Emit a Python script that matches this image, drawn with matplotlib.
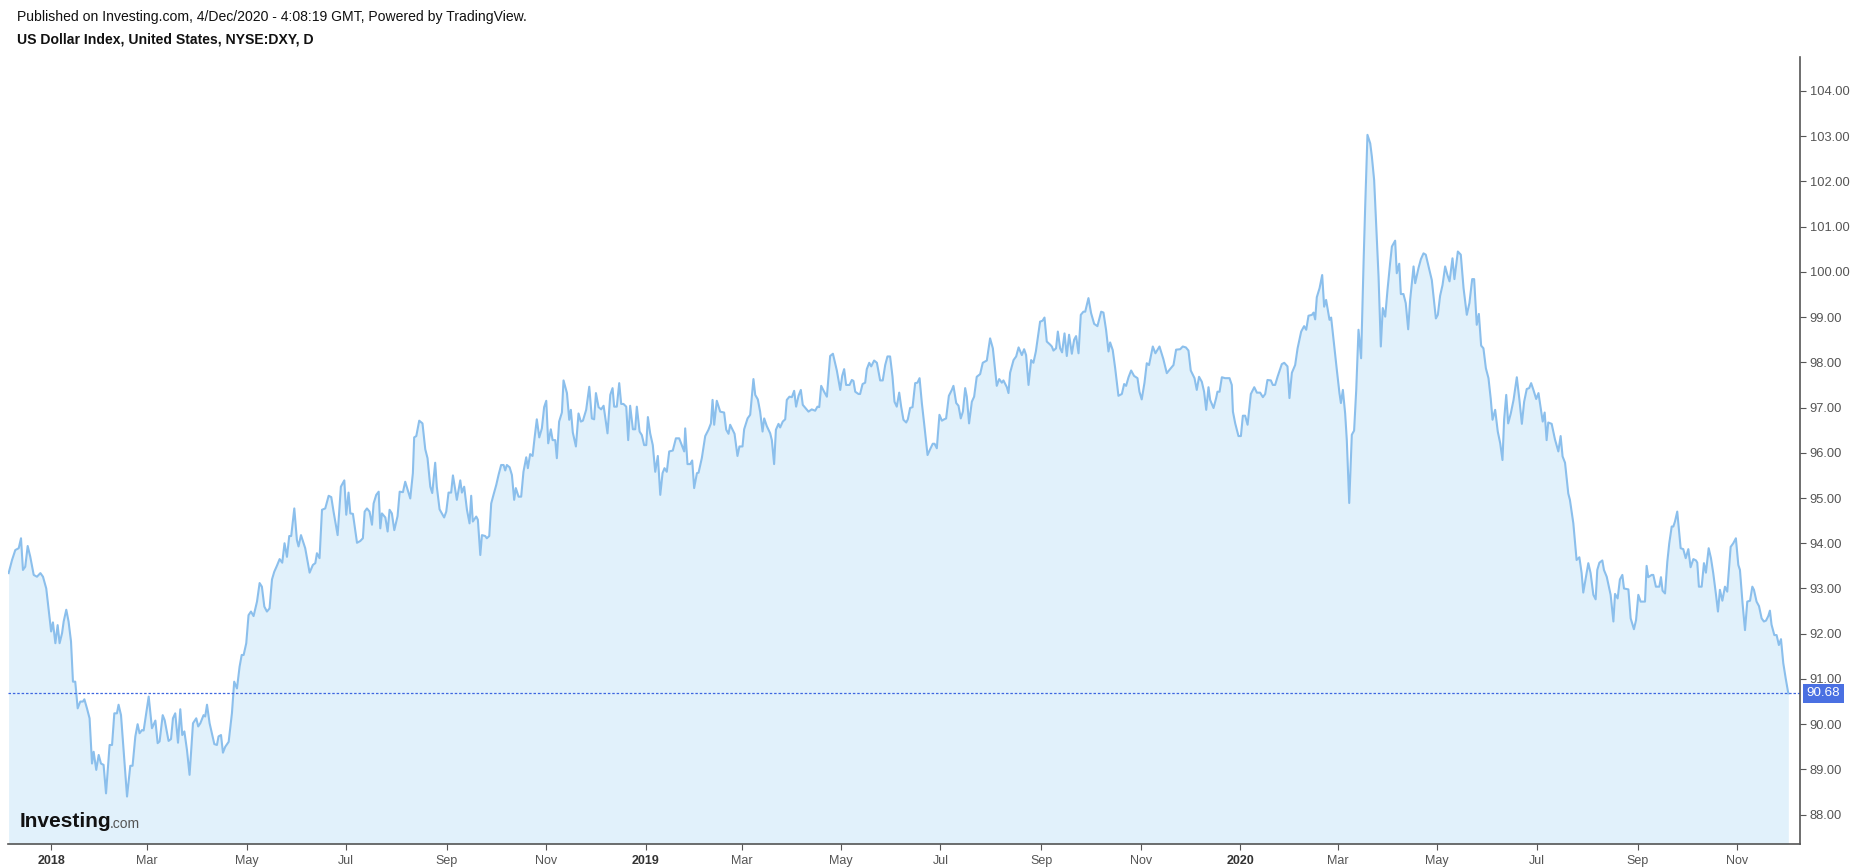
import matplotlib
matplotlib.use('Agg')
import matplotlib.pyplot as plt
import numpy as np
import pandas as pd

plt.rcParams['font.family'] = ['Liberation Sans', 'DejaVu Sans']

# days since 2018-01-01 and daily close of DXY
day_offsets = [
    -26.1, -24, -22, -19.9, -18.5, -17.3, -15.9, -14.4, -12.8, -10.7, -8.7, -6.6, -5, -3, -1.5,
    0, 1.1, 2.6, 4, 5.2, 6.7, 7.7, 9.3, 10.7, 12.2, 13.4, 14.8, 16.3, 17.9, 19.5, 20.4, 22, 23.6,
    25.1, 26.1, 27.7, 29.2, 30.6, 32.2, 33.7, 35.9, 37.4, 38.8, 40.4, 41.4, 42.9, 46.6, 48.6, 50,
    51.7, 53.1, 54.3, 55.8, 56.8, 59.9, 61.9, 64, 65.4, 66.6, 68.5, 69.7, 72.1, 73.6, 74.8, 76.2,
    77.9, 79.3, 80.5, 81.8, 83.4, 85, 87.1, 89.1, 90.3, 91.6, 93.6, 94.6, 95.7, 97.3, 98.7, 100.2,
    101.8, 102.8, 104.3, 105.5, 106.9, 109, 111, 112.4, 114.1, 115.7, 117, 118.2, 119.8, 121.2,
    122.7, 124.3, 126.4, 128, 129.4, 130.9, 132.5, 134.1, 135.6, 137, 138.6, 140.3, 141.9, 143.3,
    144.8, 146.2, 147.4, 149.3, 150.9, 151.9, 153.4, 156, 158.7, 160.7, 162.2, 163.2, 164.8, 166.3,
    168.3, 170.4, 172, 173.4, 175.9, 177.9, 180, 181.2, 182.6, 183.7, 185.3, 187.8, 189.8, 191.4,
    192.5, 193.9, 195.5, 197, 198, 199.6, 201.1, 202.1, 203.1, 205.2, 206.6, 207.8, 209.2, 210.7,
    212.7, 214, 216, 217.4, 220.5, 222.1, 222.9, 224.2, 226, 228, 229.7, 231.1, 232.8, 234, 235.8,
    236.8, 238.5, 241.3, 242.6, 244, 245.6, 246.7, 249.1, 251.2, 252.2, 253.6, 255.3, 256.9, 257.9,
    258.9, 261, 262, 263.5, 264.5, 266.5, 267.5, 269, 270.2, 271.6, 273.3, 274.7, 276.3, 277.8,
    278.8, 279.8, 281.5, 282.9, 284.3, 285.3, 287, 288.6, 290, 291.7, 292.7, 294.1, 295.6, 296.8,
    298.2, 299.7, 301.3, 302.7, 304, 305.2, 306.8, 307.9, 309.5, 310.5, 311.9, 313.6, 314.6, 316.7,
    318.1, 319.1, 320.3, 322.2, 323.8, 325.2, 326.5, 328.5, 330.4, 332, 333.4, 334.5, 336.1, 337.7,
    339.2, 341.6, 343.3, 344.7, 345.7, 347.3, 348.8, 350, 351.4, 353.1, 354.3, 355.5, 357.2, 358.6,
    359.6, 361.3, 362.7, 364.1, 365.4, 366.4, 367.8, 369.4, 370.9, 372.5, 374, 375.4, 376.6, 378,
    379.5, 381.7, 383.6, 385.6, 387.2, 388.7, 389.3, 390.7, 392.4, 393.6, 394.8, 396.5, 397.5,
    399.5, 401.6, 403.6, 405.1, 406.1, 407.1, 408.7, 410.8, 413.2, 414.5, 415.9, 416.9, 419.6,
    421.4, 422.6, 424.5, 425.5, 427.6, 429.2, 431.2, 432.3, 433.9, 435.3, 436.8, 437.8, 439.4,
    441.5, 442.5, 443.9, 445, 446.6, 447.6, 449.2, 450.7, 451.7, 453.3, 454.8, 456.2, 457.4,
    458.9, 460.3, 461.5, 465, 467, 469.1, 470.5, 471.6, 472.8, 474.6, 476.3, 478.3, 480, 482.4,
    484.5, 485.7, 486.9, 488.1, 490.2, 491.6, 492.6, 493.7, 495.7, 496.7, 498.2, 499.8, 500.8,
    502.3, 503.5, 505.3, 507, 509, 510.6, 512.1, 513.5, 515.1, 516.6, 517.8, 519.2, 520.7, 521.9,
    523.3, 525, 526, 527.4, 528.9, 530.5, 531.9, 533.2, 534.6, 536, 538.1, 539.7, 541.3, 542.4,
    543.8, 545.4, 546.9, 548.3, 549.5, 551.2, 553, 554, 555.7, 557.1, 558.5, 559.8, 561.2, 562.2,
    563.6, 565.3, 566.7, 568.3, 570.4, 572, 574.5, 576.5, 578.2, 580.6, 582.1, 583.7, 584.7,
    586.8, 587.8, 588.8, 590.9, 592.5, 594, 596, 597.4, 598.6, 600.1, 601.7, 603.1, 604.6, 607.2,
    608.7, 609.9, 611.3, 613.4, 614.4, 615.4, 617, 618.1, 619.5, 620.7, 622.2, 623.6, 625, 626.7,
    628.1, 629.3, 630.8, 632.2, 633.8, 634.9, 636.9, 638.5, 640.4, 642.4, 644.7, 646.1, 647.7,
    649.2, 650.2, 651.8, 653.3, 655.3, 657.4, 658.8, 660, 661.5, 663.1, 664.9, 667, 668.2, 669.6,
    671.3, 672.7, 674.1, 676.4, 678, 680.5, 682.9, 685, 687, 689.1, 690.7, 693.2, 694.8, 696.7,
    698.3, 699.7, 702, 703.4, 704.8, 706.5, 707.9, 709.2, 710.6, 711.6, 713.7, 715.3, 716.1,
    717.4, 718.8, 720.8, 723.5, 724.9, 725.6, 727, 729, 730.5, 731.7, 733.1, 734.6, 736.6, 738.7,
    740.3, 742.3, 744, 745.4, 746.8, 748.9, 750.1, 751.5, 753, 755.6, 757.1, 759.1, 760.3, 761.8,
    763.8, 765.3, 767.5, 769.3, 770.6, 772, 774.1, 775.1, 776.1, 777.1, 778.8, 780.4, 781.6,
    782.8, 784.9, 785.9, 787.4, 789.4, 791, 791.9, 793.1, 794.5, 795.5, 797, 798.6, 800, 801.3,
    802.7, 804.3, 805.8, 806.8, 808.2, 809.9, 810.9, 812.3, 813.5, 815, 816.4, 817.6, 819.1,
    820.5, 822.1, 823.2, 825.2, 826.2, 827.7, 828.7, 830.3, 831.7, 833.2, 834.4, 836.5, 837.5,
    839.5, 841, 842.6, 844, 845.7, 847.7, 850.2, 851.4, 852.8, 854.3, 855.9, 857.3, 858.6, 860.4,
    861.6, 863.7, 865.5, 867.2, 869.2, 870.8, 872.5, 873.7, 875.3, 876.6, 878, 879.4, 880.9,
    882.5, 883.9, 885, 886.6, 888.2, 889.7, 891.1, 892.1, 893.4, 894.6, 896.2, 897.9, 899.9,
    901.5, 903, 904.4, 906, 907.5, 908.7, 910.1, 911.8, 913.2, 914.2, 915.8, 917, 918.2, 919.2,
    921.3, 923.3, 925.4, 926.8, 928, 929.5, 931.5, 932.5, 934.6, 936.6, 938.3, 939.7, 940.7,
    942.4, 943.8, 945.2, 946.9, 948.3, 949.3, 950.6, 952.4, 953.4, 955.1, 957.5, 959.2, 960.2,
    961.8, 963.2, 964.7, 965.7, 968.4, 969.8, 971.8, 973.1, 974.5, 975.9, 978.6, 979.6, 980.6,
    982.7, 983.7, 985.3, 987.4, 988.4, 989.4, 990.9, 992.3, 993.5, 995, 996, 997, 998.4, 999.5,
    1000.5, 1002.1, 1003.6, 1005.2, 1006.6, 1008.3, 1009.9, 1010.7, 1011.7, 1013.4, 1014.8, 1016,
    1017.7, 1019.1, 1020.5, 1022.2, 1023.4, 1024.6, 1026.1, 1027.7, 1029.1, 1031.2, 1032.8,
    1034.4, 1035.9, 1036.9, 1038.5, 1040, 1041.4, 1043.1, 1044.5, 1045.5, 1047.1, 1048.6, 1050.2,
    1051.6, 1052.9, 1054.3, 1055.3, 1056.3, 1058, 1059.4, 1060.8, 1062.1, 1063.5, 1065, 1066.6,
]
dxy_close = [
    93.34, 93.63, 93.85, 93.89, 94.11, 93.41, 93.48, 93.94, 93.70, 93.30, 93.26, 93.34, 93.26, 93.00, 92.53,
    92.05, 92.25, 91.79, 92.19, 91.79, 92.01, 92.27, 92.53, 92.27, 91.83, 90.94, 90.94, 90.35, 90.50, 90.50, 90.55, 90.35, 90.13,
    89.13, 89.39, 88.99, 89.32, 89.13, 89.10, 88.47, 89.54, 89.54, 90.24, 90.24, 90.43, 90.20, 88.40, 89.08, 89.08,
    89.73, 90.00, 89.80, 89.87, 89.86, 90.61, 89.91, 90.08, 89.58, 89.62, 90.20, 90.09, 89.63, 89.67, 90.13, 90.24,
    89.59, 90.33, 89.76, 89.84, 89.43, 88.88, 90.02, 90.13, 89.95, 90.02, 90.20, 90.17, 90.43, 90.02, 89.80, 89.56,
    89.54, 89.73, 89.76, 89.37, 89.50, 89.61, 90.24, 90.94, 90.79, 91.27, 91.53, 91.53, 91.79, 92.41,
    92.49, 92.39, 92.71, 93.12, 93.04, 92.60, 92.49, 92.56, 93.20, 93.37, 93.50, 93.65, 93.57, 94.00,
    93.70, 94.16, 94.16, 94.77, 94.07, 93.93, 94.18, 93.89, 93.35, 93.52, 93.56, 93.78, 93.67, 94.74,
    94.77, 95.05, 95.02, 94.70, 94.18, 95.25, 95.39, 94.63, 95.12, 94.66, 94.65, 94.01, 94.05, 94.11,
    94.70, 94.77, 94.70, 94.41, 94.88, 95.07, 95.14, 94.33, 94.66, 94.57, 94.26, 94.74, 94.66, 94.29,
    94.60, 95.14, 95.13, 95.36, 94.99, 95.55, 96.34, 96.37, 96.71, 96.65, 96.08, 95.88, 95.25, 95.11, 95.78,
    95.25, 94.75, 94.57, 94.70, 95.12, 95.12, 95.50, 94.96, 95.39, 95.12, 95.25, 94.74, 94.44, 95.05,
    94.48, 94.59, 94.52, 93.74, 94.18, 94.16, 94.11, 94.16, 94.88, 95.07, 95.29, 95.51, 95.73, 95.73,
    95.61, 95.73, 95.68, 95.51, 94.96, 95.22, 95.03, 95.03, 95.58, 95.90, 95.66, 95.97, 95.93, 96.32,
    96.74, 96.34, 96.54, 97.01, 97.15, 96.21, 96.52, 96.28, 96.28, 95.88, 96.69, 96.89, 97.60, 97.32,
    96.73, 96.95, 96.45, 96.14, 96.87, 96.69, 96.71, 96.95, 97.46, 96.76, 96.74, 97.32, 97.01, 96.96,
    97.04, 96.43, 97.28, 97.43, 97.02, 97.02, 97.54, 97.08, 97.08, 97.02, 96.28, 97.04, 96.52, 96.52,
    97.02, 96.47, 96.39, 96.17, 96.17, 96.79, 96.43, 96.17, 95.58, 95.93, 95.07, 95.55, 95.66, 95.58,
    96.03, 96.05, 96.32, 96.32, 96.17, 96.03, 96.54, 95.75, 95.75, 95.83, 95.22, 95.55, 95.56,
    95.88, 96.37, 96.51, 96.65, 97.17, 96.62, 97.15, 96.91, 96.89, 96.51, 96.42, 96.62, 96.42,
    95.93, 96.14, 96.14, 96.52, 96.76, 96.84, 97.63, 97.28, 97.18, 96.91, 96.47, 96.76, 96.59,
    96.43, 96.28, 95.75, 96.51, 96.64, 96.56, 96.69, 96.74, 97.17, 97.24, 97.23, 97.37, 97.02,
    97.26, 97.39, 97.06, 96.91, 96.96, 96.93, 97.02, 97.01, 97.48, 97.35, 97.24, 98.14, 98.19, 97.82,
    97.39, 97.70, 97.85, 97.50, 97.50, 97.61, 97.59, 97.35, 97.30, 97.30, 97.52, 97.55, 97.85,
    97.99, 97.91, 98.04, 97.99, 97.60, 97.60, 97.94, 98.13, 98.13, 97.68, 97.13, 97.02, 97.33, 97.02,
    96.73, 96.67, 96.74, 96.99, 97.01, 97.54, 97.55, 97.65, 97.10, 96.65, 95.95, 96.08, 96.20, 96.20,
    96.10, 96.84, 96.71, 96.74, 96.76, 97.26, 97.39, 97.48, 97.10, 97.04, 96.76, 96.91, 97.43, 97.24,
    96.65, 97.13, 97.24, 97.68, 97.74, 97.99, 98.04, 98.53, 98.31, 97.48, 97.63, 97.55, 97.60,
    97.45, 97.32, 97.77, 98.05, 98.13, 98.33, 98.16, 98.29, 98.16, 97.50, 98.05, 97.99, 98.24, 98.90,
    98.92, 98.99, 98.46, 98.39, 98.35, 98.26, 98.31, 98.68, 98.31, 98.22, 98.64, 98.14, 98.61, 98.19,
    98.50, 98.58, 98.20, 99.05, 99.12, 99.12, 99.42, 99.09, 98.85, 98.80, 99.12, 99.10, 98.72,
    98.24, 98.44, 98.27, 97.87, 97.26, 97.30, 97.52, 97.48, 97.67, 97.82, 97.70, 97.65, 97.35, 97.18,
    97.55, 97.98, 97.94, 98.35, 98.20, 98.35, 98.07, 97.76, 97.85, 97.94, 98.28, 98.29, 98.35, 98.33,
    98.26, 97.82, 97.65, 97.39, 97.68, 97.57, 97.35, 96.95, 97.45, 97.17, 96.99, 97.21, 97.35,
    97.35, 97.67, 97.65, 97.65, 97.50, 96.91, 96.65, 96.37, 96.37, 96.82, 96.82, 96.62, 97.30, 97.45,
    97.33, 97.33, 97.23, 97.30, 97.61, 97.60, 97.50, 97.50, 97.68, 97.96, 97.99, 97.91, 97.21, 97.77,
    97.94, 98.31, 98.68, 98.80, 98.72, 99.03, 99.05, 99.10, 98.95, 99.44, 99.64, 99.93, 99.23,
    99.38, 98.94, 98.99, 98.49, 97.83, 97.32, 97.10, 97.39, 96.87, 96.29, 94.89, 96.40, 96.49, 97.39,
    98.72, 98.09, 100.19, 101.44, 103.03, 102.84, 102.55, 102.03, 101.08, 99.90, 98.35, 99.20, 99.01,
    99.60, 100.19, 100.56, 100.69, 99.97, 100.18, 99.51, 99.51, 99.31, 98.73, 99.38, 100.12, 99.75,
    100.08, 100.28, 100.41, 100.38, 100.12, 99.82, 98.97, 99.05, 99.47, 99.71, 100.12, 99.93, 99.79, 100.30,
    99.84, 100.45, 100.38, 99.64, 99.05, 99.31, 99.84, 99.84, 98.83, 99.07, 98.37, 98.31, 97.87,
    97.65, 97.19, 96.73, 96.95, 96.47, 96.21, 95.84, 96.73, 97.28, 96.65, 96.87, 97.17, 97.67,
    97.17, 96.64, 97.13, 97.41, 97.43, 97.54, 97.39, 97.19, 97.32, 97.08, 96.69, 96.89, 96.28, 96.67,
    96.64, 96.30, 96.03, 96.37, 95.92, 95.78, 95.10, 94.96, 94.44, 93.63, 93.69, 93.34, 92.91,
    93.26, 93.56, 93.34, 92.86, 92.76, 93.41, 93.57, 93.62, 93.41, 93.26, 92.86, 92.27, 92.88,
    92.78, 93.20, 93.30, 93.00, 92.98, 92.34, 92.10, 92.30, 92.86, 92.71, 92.71, 93.50, 93.25,
    93.30, 93.30, 93.04, 93.04, 93.25, 92.95, 92.89, 93.59, 94.00, 94.37, 94.37, 94.48, 94.70, 94.28,
    93.89, 93.87, 93.67, 93.87, 93.47, 93.65, 93.62, 93.57, 93.04, 93.04, 93.56, 93.35,
    93.89, 93.67, 93.34, 92.86, 92.49, 92.97, 92.73, 93.04, 92.93, 93.92, 94.00,
    94.11, 93.52, 93.41, 92.67, 92.08, 92.71, 92.73, 93.04, 92.97, 92.71, 92.61, 92.34,
    92.27, 92.29, 92.39, 92.51, 92.20, 91.97, 91.97, 91.75, 91.88, 91.35, 91.01, 90.68,
]

tick_dates = ['2018-01-01', '2018-03-01', '2018-05-01', '2018-07-01', '2018-09-01', '2018-11-01',
              '2019-01-01', '2019-03-01', '2019-05-01', '2019-07-01', '2019-09-01', '2019-11-01',
              '2020-01-01', '2020-03-01', '2020-05-01', '2020-07-01', '2020-09-01', '2020-11-01']
tick_labels = ['2018', 'Mar', 'May', 'Jul', 'Sep', 'Nov',
               '2019', 'Mar', 'May', 'Jul', 'Sep', 'Nov',
               '2020', 'Mar', 'May', 'Jul', 'Sep', 'Nov']
price_ticks = [88, 89, 90, 91, 92, 93, 94, 95, 96, 97, 98, 99, 100, 101, 102, 103, 104]
last_price = dxy_close[-1]

start = pd.Timestamp('2018-01-01')
dates = start + pd.to_timedelta(day_offsets, unit='D')

fig = plt.figure(figsize=(18.54, 8.68), dpi=100)
ax = fig.add_axes([0.0043, 0.0276, 0.9666, 0.9067])

ymin, ymax = 87.35, 104.75
ax.fill_between(dates, dxy_close, ymin, color='#e1f1fb', lw=0)
ax.plot(dates, dxy_close, color='#8bbfec', lw=1.5)
ax.axhline(last_price, color='#3d66e0', lw=0.9, ls=(0, (2, 1.5)))

ax.set_ylim(ymin, ymax)
ax.set_xlim(start + pd.Timedelta(days=-26.5), start + pd.Timedelta(days=1073.8))

ax.yaxis.tick_right()
ax.set_yticks(price_ticks)
ax.set_yticklabels(['%.2f' % p for p in price_ticks])
ax.set_xticks(pd.to_datetime(tick_dates))
ax.set_xticklabels(tick_labels)
ax.tick_params(axis='y', colors='#555555', labelsize=9.3, length=4, width=0.8, pad=3)
ax.tick_params(axis='x', colors='#555555', labelsize=9, length=4, width=0.8, pad=4)
for lbl in ax.get_xticklabels():
    if lbl.get_text().isdigit():
        lbl.set_fontweight('bold')
        lbl.set_color('#333333')

for s in ['top', 'left']:
    ax.spines[s].set_visible(False)
for s in ['right', 'bottom']:
    ax.spines[s].set_color('#555555')
    ax.spines[s].set_linewidth(1.2)

# last price badge on the axis
ax.annotate('%.2f' % last_price, xy=(1.0, last_price), xycoords=('axes fraction', 'data'),
            xytext=(4.8, 0), textcoords='offset points', ha='left', va='center',
            fontsize=9.6, color='white',
            bbox=dict(boxstyle='square,pad=0.28', fc='#4a70e2', ec='none'))

fig.text(0.0092, 0.980, 'Published on Investing.com, 4/Dec/2020 - 4:08:19 GMT, Powered by TradingView.',
         fontsize=10.1, color='#111111', va='center', ha='left')
fig.text(0.0092, 0.954, 'US Dollar Index, United States, NYSE:DXY, D',
         fontsize=10.1, color='#111111', fontweight='bold', va='center', ha='left')

# Investing.com logo
logo = fig.text(0.0108, 0.054, 'Investing', fontsize=15, fontweight='bold', color='#111111',
                va='center', ha='left')
fig.canvas.draw()
bb = logo.get_window_extent()
fig.text(bb.x1 / fig.bbox.width - 0.0008, 0.051, '.com', fontsize=10, color='#555555',
         va='center', ha='left')

fig.savefig('out.png', dpi=100)
